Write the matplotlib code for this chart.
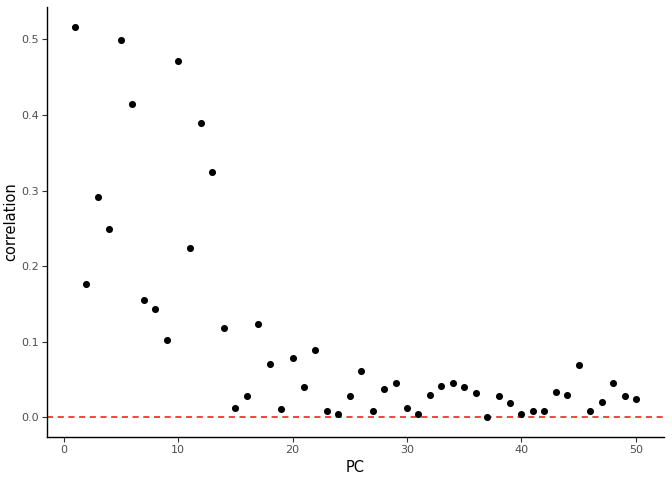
import numpy as np
import matplotlib
matplotlib.use("Agg")
import matplotlib.pyplot as plt

# correlation per principal component
pc = np.arange(1, 51)
correlation = [
    0.517, 0.177, 0.291, 0.249, 0.499, 0.415, 0.155, 0.143, 0.103, 0.471,
    0.224, 0.389, 0.325, 0.118, 0.012, 0.029, 0.123, 0.071, 0.011, 0.078,
    0.040, 0.089, 0.008, 0.004, 0.029, 0.062, 0.008, 0.037, 0.046, 0.012,
    0.004, 0.030, 0.042, 0.046, 0.040, 0.033, 0.000, 0.028, 0.019, 0.004,
    0.009, 0.009, 0.034, 0.030, 0.070, 0.008, 0.021, 0.046, 0.028, 0.024,
]
x_ticks = [0, 10, 20, 30, 40, 50]
y_ticks = [0.0, 0.1, 0.2, 0.3, 0.4, 0.5]

fig = plt.figure(figsize=(6.72, 4.8), dpi=100)
ax = fig.add_axes([47 / 672, 1 - 437 / 480, 617 / 672, 430 / 480])

ax.scatter(pc, correlation, s=26, color="black", zorder=3, linewidths=0)
ax.axhline(0, color="#EE1111", linestyle=(0, (4, 3)), linewidth=1.1, zorder=2)

# ggplot-like expansion
xr = max(pc) - min(pc)
yr = max(correlation) - min(correlation)
ax.set_xlim(min(pc) - 0.05 * xr, max(pc) + 0.05 * xr)
ax.set_ylim(min(correlation) - 0.05 * yr, max(correlation) + 0.05 * yr)

ax.set_xticks(x_ticks)
ax.set_yticks(y_ticks)
ax.set_yticklabels([f"{v:.1f}" for v in y_ticks])

for side in ["top", "right"]:
    ax.spines[side].set_visible(False)
for side in ["left", "bottom"]:
    ax.spines[side].set_linewidth(1.0)
    ax.spines[side].set_color("black")

ax.tick_params(axis="both", length=3.5, width=0.8, color="#333333",
               labelsize=8.0, labelcolor="#4D4D4D", pad=2.5)

ax.set_xlabel("PC", fontsize=10.5, labelpad=3)
ax.set_ylabel("correlation", fontsize=10.5, labelpad=2)

fig.savefig("out.png", dpi=100)
